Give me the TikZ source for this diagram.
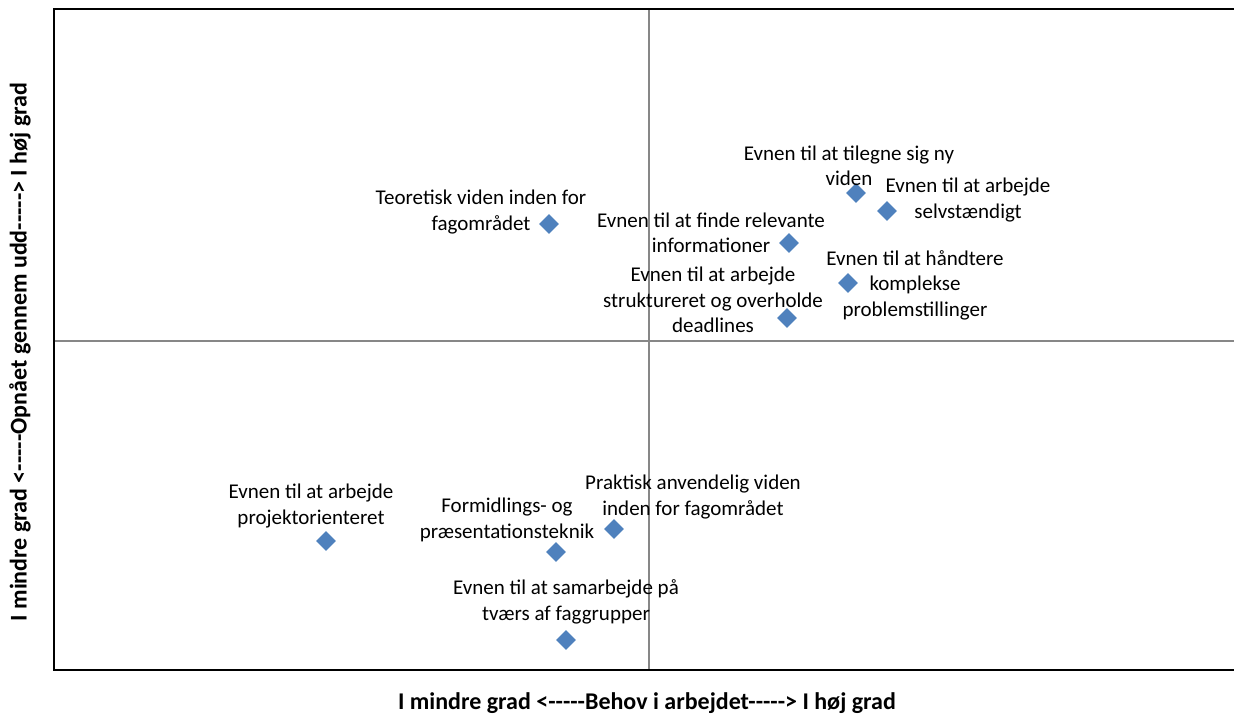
\documentclass[tikz,border=0pt]{standalone}
\usepackage{fontspec}
\setmainfont{Carlito}
\usetikzlibrary{shapes.geometric}
\definecolor{mk}{HTML}{4F81BD}
\definecolor{midg}{HTML}{878787}
\newcommand{\dsh}{-{}-{}-{}-{}-}
\begin{document}
\begin{tikzpicture}[x=1pt,y=-1pt,
  datapt/.style={shape=diamond, fill=mk, inner sep=0pt, minimum width=20pt, minimum height=20pt},
  lbl/.style={align=center, inner sep=0pt, font=\fontsize{21}{25.5}\selectfont},
  axtitle/.style={inner sep=0pt, font=\fontsize{24}{28}\selectfont\bfseries},
  axisln/.style={draw=midg, line width=1.5pt},
  frameln/.style={draw=black, line width=1.3pt}]
\useasboundingbox (0,0) rectangle (1234,715);
% axes and frame
\coordinate (vt) at (649,9);
\coordinate (vb) at (649,670);
\coordinate (hl) at (54,341);
\coordinate (hr) at (1236,341);
\coordinate (ftr) at (1236,9);
\coordinate (ftl) at (54,9);
\coordinate (fbl) at (54,670);
\coordinate (fbr) at (1236,670);
\draw[axisln] (vt) -- (vb);
\draw[axisln] (hl) -- (hr);
\draw[frameln] (ftr) -- (ftl) -- (fbl) -- (fbr);
% data points
\node[datapt] (m1) at (549,224) {};
\node[datapt] (m2) at (856,193) {};
\node[datapt] (m3) at (887,211) {};
\node[datapt] (m4) at (789,243) {};
\node[datapt] (m5) at (848,283) {};
\node[datapt] (m6) at (787,318) {};
\node[datapt] (m7) at (326,541) {};
\node[datapt] (m8) at (556,552) {};
\node[datapt] (m9) at (614,529) {};
\node[datapt] (m10) at (566,640) {};
% labels
\node[lbl] (l1) at (481,212) {Teoretisk viden inden for\\fagområdet};
\node[lbl] (l2) at (849,166) {Evnen til at tilegne sig ny\\viden};
\node[lbl] (l3) at (968,200) {Evnen til at arbejde\\selvstændigt};
\node[lbl] (l4) at (711,233) {Evnen til at finde relevante\\informationer};
\node[lbl] (l5) at (915,285) {Evnen til at håndtere\\komplekse\\problemstillinger};
\node[lbl] (l6) at (713,300) {Evnen til at arbejde\\struktureret og overholde\\deadlines};
\node[lbl] (l7) at (311,506) {Evnen til at arbejde\\projektorienteret};
\node[lbl] (l8) at (507,520) {Formidlings- og\\præsentationsteknik};
\node[lbl] (l9) at (693,497) {Praktisk anvendelig viden\\inden for fagområdet};
\node[lbl] (l10) at (566,602) {Evnen til at samarbejde på\\tværs af faggrupper};
% axis titles
\node[axtitle] (xt) at (647,703) {I mindre grad <\dsh Behov i arbejdet\dsh> I høj grad};
\node[axtitle, rotate=90] (yt) at (20,352) {I mindre grad <\dsh Opnået gennem udd\dsh> I høj grad};
\end{tikzpicture}
\end{document}
